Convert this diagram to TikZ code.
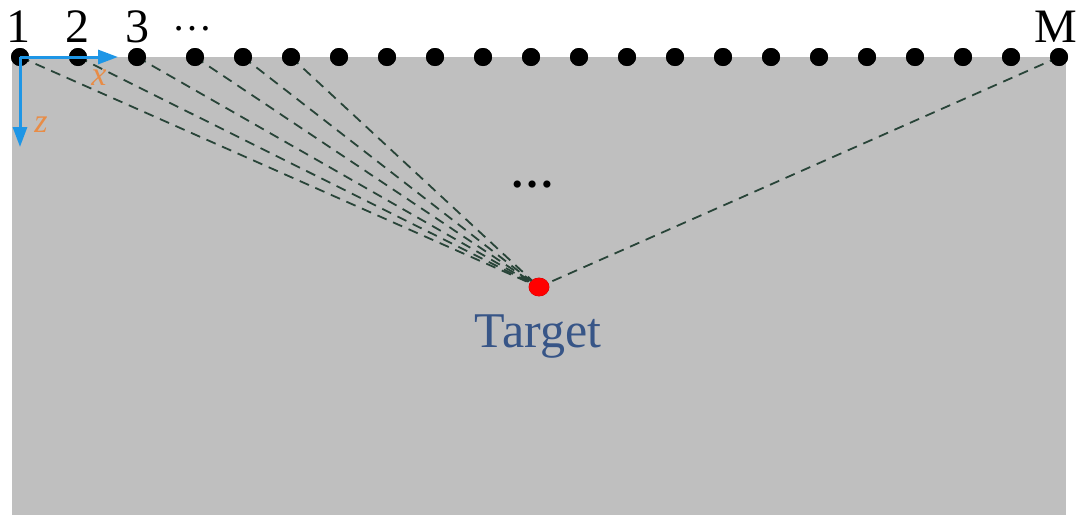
\documentclass[tikz,border=0pt]{standalone}
\usepackage{fontspec}
\setmainfont{Liberation Serif}
\usetikzlibrary{arrows.meta,shapes.geometric}
\definecolor{bggray}{RGB}{191,191,191}
\definecolor{axisblue}{RGB}{30,150,230}
\definecolor{axisorange}{RGB}{232,140,70}
\definecolor{raycol}{RGB}{40,68,56}
\definecolor{tgtblue}{RGB}{55,85,135}
\tikzset{
  sensor/.style={circle,fill=black,inner sep=0pt,minimum size=9pt},
  ray/.style={draw=raycol,dash pattern=on 5pt off 3.5pt,line width=0.9pt},
  axisarrow/.style={draw=axisblue,line width=1.5pt,-{Triangle[length=10pt,width=7pt]}},
  lbl/.style={font=\fontsize{24}{28}\selectfont,anchor=base,inner sep=0pt},
  axlbl/.style={font=\fontsize{17}{20}\selectfont\itshape,text=axisorange,inner sep=0pt}
}
\begin{document}
\begin{tikzpicture}[x=0.5pt,y=-0.5pt]
\useasboundingbox (0,0) rectangle (1081,520);
\fill[bggray] (12,57) rectangle (1066,515);
% sensors
\node[sensor] (d1) at (20,57) {};
\node[sensor] (d2) at (78,57) {};
\node[sensor] (d3) at (137,57) {};
\foreach \i in {4,...,22} {
  \node[sensor] (d\i) at ({195+48*(\i-4)},57) {};
}
% target
\node[ellipse,minimum width=10pt,minimum height=9pt,inner sep=0pt,fill=red,draw=red!80!black,line width=0.4pt] (t) at (539,287) {};
\node[font=\fontsize{25}{30}\selectfont,text=tgtblue,anchor=base,inner sep=0pt] (tl) at (538,347) {Target};
% rays
\foreach \i in {1,...,6,22} {
  \draw[ray] (d\i.center) -- (t.center);
}
% redraw sensors and target on top of the rays
\foreach \i in {1,...,22} {
  \fill[black] (d\i) circle (4.5pt);
}
\fill[red] (t) ellipse (5pt and 4.5pt);
% axes
\coordinate (xe) at (118,57);
\coordinate (ze) at (20,147);
\draw[axisarrow] (d1.center) -- (xe);
\draw[axisarrow] (d1.center) -- (ze);
\node[axlbl] (xl) at (99,78) {x};
\node[axlbl] (zl) at (41,125) {z};
% labels
\node[lbl] (l1) at (18,42) {1};
\node[lbl] (l2) at (77,42) {2};
\node[lbl] (l3) at (137,42) {3};
\node[lbl] (ldots) at (192,30) {\fontsize{20}{24}\selectfont\ldots};
\node[lbl] (lM) at (1056,42) {M};
\node[font=\fontsize{22}{26}\selectfont\bfseries,anchor=base,inner sep=0pt] (mdots) at (532,187) {\ldots};
\end{tikzpicture}
\end{document}
